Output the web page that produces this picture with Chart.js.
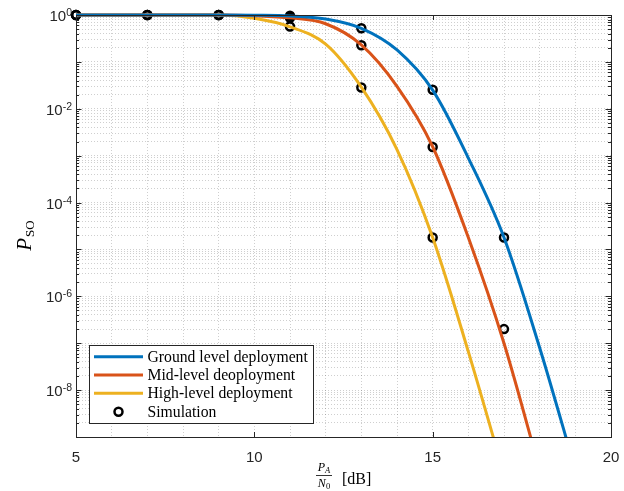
<!DOCTYPE html>
<html>
<head>
<meta charset="utf-8">
<script src="https://cdn.jsdelivr.net/npm/chart.js@4.4.1/dist/chart.umd.min.js"></script>
<style>
  html, body { margin: 0; padding: 0; background: #fff; }
  #wrap { width: 624px; height: 491px; }
</style>
</head>
<body>
<div id="wrap"><canvas id="psoChart"></canvas></div>
<script>
// P_A/N_0 in dB
const snrDb = [5, 6, 7, 8, 9, 10, 11, 12, 13, 14, 15, 16, 17, 18, 19];

// analytical curves
const groundLevel = [1, 1, 1, 1, 1, 0.99, 0.955, 0.82, 0.52, 0.18, 0.025, 8.9e-4, 1.8e-5, 8e-8, 2e-10];
const midLevel = [1, 1, 1, 1, 1, 0.966, 0.87, 0.65, 0.23, 0.030, 1.55e-3, 1.8e-5, 1e-7, 2e-10];
const highLevel = [1, 1, 1, 1, 0.995, 0.85, 0.56, 0.24, 0.029, 1.35e-3, 1.8e-5, 6.6e-8, 1.6e-10];

// simulation points
const simX = [5, 5, 5, 7, 7, 7, 9, 9, 9, 11, 11, 11, 13, 13, 13, 15, 15, 15, 17, 17];
const simY = [1, 1, 1, 1, 1, 1, 1, 1, 1, 0.96, 0.87, 0.57, 0.52, 0.226, 0.0284, 0.0254, 0.00153, 1.8e-5, 1.8e-5, 2.0e-7];

const xTickLabels = [5, 10, 15, 20];
const yTickExps = [0, -2, -4, -6, -8];

const seriesNames = ["Ground level deployment", "Mid-level deoployment", "High-level deployment", "Simulation"];
const seriesColors = ["#0072BD", "#D95319", "#EDB120", "#000000"];

const axisColor = "#262626";
const gridColor = "rgba(38,38,38,0.22)";

function toPoints(ys) {
    return ys.map((v, i) => ({ x: snrDb[i], y: v }));
}

function curve(i, ys) {
    return {
        label: seriesNames[i],
        data: toPoints(ys),
        borderColor: seriesColors[i],
        backgroundColor: seriesColors[i],
        borderWidth: 3,
        pointRadius: 0,
        fill: false,
        cubicInterpolationMode: "monotone",
        clip: { left: 6, top: 6, right: 0, bottom: 0 },
    };
}

// frame, inward ticks, superscript labels, axis titles and legend, MATLAB style
const matlabAxes = {
    id: "matlabAxes",
    afterDraw(chart) {
        const ctx = chart.ctx;
        const a = chart.chartArea;
        const xs = chart.scales.x;
        const ys = chart.scales.y;
        ctx.save();

        // box
        ctx.strokeStyle = axisColor;
        ctx.lineWidth = 1;
        ctx.strokeRect(Math.round(a.left) + 0.5, Math.round(a.top) + 0.5, Math.round(a.right - a.left), Math.round(a.bottom - a.top));

        // x ticks
        ctx.beginPath();
        xTickLabels.forEach(v => {
            const px = Math.round(xs.getPixelForValue(v)) + 0.5;
            ctx.moveTo(px, a.bottom); ctx.lineTo(px, a.bottom - 5);
            ctx.moveTo(px, a.top); ctx.lineTo(px, a.top + 5);
        });
        // y ticks
        for (let e = -9; e <= 0; e++) {
            for (let m = 1; m <= 9; m++) {
                const v = m * Math.pow(10, e);
                if (v < 1e-9 || v > 1) continue;
                const py = Math.round(ys.getPixelForValue(v)) + 0.5;
                const len = m === 1 ? 5.5 : 3;
                ctx.moveTo(a.left, py); ctx.lineTo(a.left + len, py);
                ctx.moveTo(a.right, py); ctx.lineTo(a.right - len, py);
            }
        }
        ctx.stroke();

        // y labels 10^k
        ctx.fillStyle = axisColor;
        yTickExps.forEach(e => {
            const py = ys.getPixelForValue(Math.pow(10, e));
            const exp = e === 0 ? "0" : "-" + Math.abs(e);
            ctx.font = '10.5px "Liberation Sans", Arial, sans-serif';
            const ew = ctx.measureText(exp).width;
            ctx.textAlign = "left";
            ctx.textBaseline = "alphabetic";
            const right = a.left - 4;
            ctx.fillText(exp, right - ew, py + 1);
            ctx.font = '15px "Liberation Sans", Arial, sans-serif';
            ctx.textAlign = "right";
            ctx.textBaseline = "middle";
            ctx.fillText("10", right - ew, py + 2);
        });

        // y title P_SO
        ctx.fillStyle = "#000";
        ctx.save();
        ctx.translate(31, (a.top + a.bottom) / 2 + 10);
        ctx.rotate(-Math.PI / 2);
        ctx.textBaseline = "alphabetic";
        ctx.textAlign = "left";
        ctx.font = 'italic 21px "Liberation Serif", serif';
        const pw = ctx.measureText("P").width;
        ctx.font = '13px "Liberation Serif", serif';
        const sw = ctx.measureText("SO").width;
        const start = -(pw + sw) / 2;
        ctx.font = 'italic 21px "Liberation Serif", serif';
        ctx.fillText("P", start, 0);
        ctx.font = '13px "Liberation Serif", serif';
        ctx.fillText("SO", start + pw + 1, 3);
        ctx.restore();

        // x title P_A/N_0 [dB]
        const fracX = 324;
        ctx.textBaseline = "alphabetic";
        ctx.textAlign = "left";
        ctx.font = 'italic 12px "Liberation Serif", serif';
        const nP = ctx.measureText("P").width;
        const nN = ctx.measureText("N").width;
        ctx.font = 'italic 8.5px "Liberation Serif", serif';
        const nA = ctx.measureText("A").width;
        ctx.font = '8.5px "Liberation Serif", serif';
        const n0 = ctx.measureText("0").width;
        let x0 = fracX - (nP + nA) / 2;
        ctx.font = 'italic 12px "Liberation Serif", serif';
        ctx.fillText("P", x0, 471);
        ctx.font = 'italic 8.5px "Liberation Serif", serif';
        ctx.fillText("A", x0 + nP, 473);
        x0 = fracX - (nN + n0) / 2;
        ctx.font = 'italic 12px "Liberation Serif", serif';
        ctx.fillText("N", x0, 487);
        ctx.font = '8.5px "Liberation Serif", serif';
        ctx.fillText("0", x0 + nN, 489);
        ctx.strokeStyle = "#000";
        ctx.lineWidth = 0.8;
        ctx.beginPath();
        ctx.moveTo(316, 475.5); ctx.lineTo(332, 475.5);
        ctx.stroke();
        ctx.font = '16px "Liberation Serif", serif';
        ctx.fillText("[dB]", 342, 484);

        // legend
        const lx = 89.5, ly = 345.5, lw = 224, lh = 78;
        ctx.fillStyle = "#fff";
        ctx.fillRect(lx, ly, lw, lh);
        ctx.strokeStyle = axisColor;
        ctx.lineWidth = 1;
        ctx.strokeRect(lx, ly, lw, lh);
        const rows = [356.7, 375, 393.3, 411.7];
        ctx.font = '15.7px "Liberation Serif", serif';
        ctx.textBaseline = "middle";
        ctx.textAlign = "left";
        seriesNames.forEach((name, i) => {
            const ry = rows[i];
            if (i < 3) {
                ctx.strokeStyle = seriesColors[i];
                ctx.lineWidth = 3;
                ctx.beginPath();
                ctx.moveTo(94, ry); ctx.lineTo(143, ry);
                ctx.stroke();
            } else {
                ctx.strokeStyle = "#000";
                ctx.lineWidth = 2.5;
                ctx.beginPath();
                ctx.arc(118.5, ry, 4, 0, Math.PI * 2);
                ctx.stroke();
            }
            ctx.fillStyle = "#000";
            ctx.fillText(name, 147.5, ry + 1);
        });

        ctx.restore();
    },
};

const ctx = document.getElementById("psoChart").getContext("2d");
const psoChart = new Chart(ctx, {
    type: "line",
    data: {
        datasets: [
            curve(0, groundLevel),
            curve(1, midLevel),
            curve(2, highLevel),
            {
                label: seriesNames[3],
                data: simX.map((x, i) => ({ x: x, y: simY[i] })),
                showLine: false,
                pointStyle: "circle",
                pointRadius: 4,
                pointBorderWidth: 2.5,
                pointBorderColor: "#000",
                pointBackgroundColor: "rgba(0,0,0,0)",
                clip: { left: 8, top: 8, right: 0, bottom: 0 },
            },
        ],
    },
    options: {
        responsive: true,
        maintainAspectRatio: false,
        animation: false,
        layout: { padding: { top: 15, right: 13, left: 0, bottom: 0 } },
        plugins: { legend: { display: false }, tooltip: { enabled: false } },
        scales: {
            x: {
                type: "linear",
                min: 5,
                max: 20,
                afterFit: s => {
                    s.height = 54;
                    s.paddingLeft = 0;
                    s.paddingRight = 0;
                },
                ticks: {
                    stepSize: 1,
                    autoSkip: false,
                    maxRotation: 0,
                    padding: 12,
                    color: axisColor,
                    font: { family: '"Liberation Sans", Arial, sans-serif', size: 15 },
                    callback: v => (xTickLabels.includes(v) ? String(v) : ""),
                },
                grid: { color: gridColor, drawTicks: false, lineWidth: 1 },
                border: { display: false, dash: [1, 2] },
            },
            y: {
                type: "logarithmic",
                min: 1e-9,
                max: 1,
                afterFit: s => {
                    s.width = 76;
                    s.paddingTop = 0;
                    s.paddingBottom = 0;
                },
                afterBuildTicks: s => {
                    const t = [];
                    for (let e = -9; e <= 0; e++) {
                        for (let m = 1; m <= 9; m++) {
                            const v = m * Math.pow(10, e);
                            if (v >= 1e-9 && v <= 1) t.push({ value: v });
                        }
                    }
                    s.ticks = t;
                },
                ticks: { autoSkip: false, callback: () => "" },
                grid: { color: gridColor, drawTicks: false, lineWidth: 1 },
                border: { display: false, dash: [1, 2] },
            },
        },
    },
    plugins: [matlabAxes],
});
</script>
</body>
</html>
